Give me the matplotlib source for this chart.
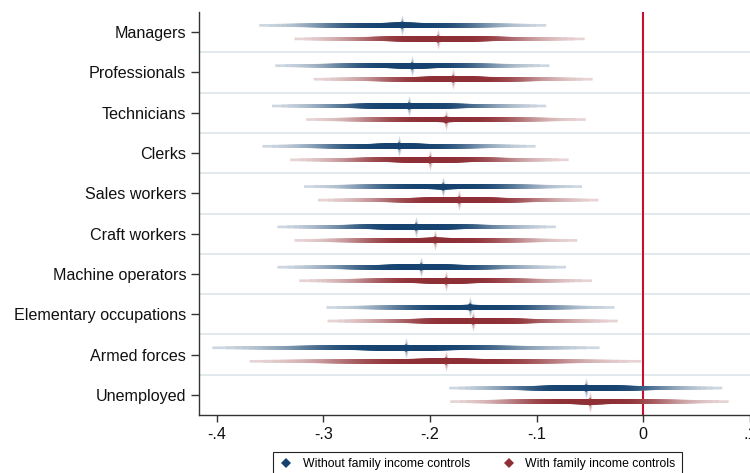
import numpy as np
import matplotlib
matplotlib.use("Agg")
import matplotlib.pyplot as plt
from matplotlib.collections import LineCollection
from matplotlib.lines import Line2D
from matplotlib.path import Path
from matplotlib.colors import to_rgb
from statistics import NormalDist

# ---------------- data ----------------
categories = ["Managers", "Professionals", "Technicians", "Clerks", "Sales workers",
              "Craft workers", "Machine operators", "Elementary occupations",
              "Armed forces", "Unemployed"]

coef_without = [-0.226, -0.217, -0.220, -0.229, -0.1875, -0.213, -0.208, -0.162, -0.2225, -0.054]
lo_without   = [-0.360, -0.345, -0.348, -0.357, -0.318, -0.343, -0.343, -0.297, -0.404, -0.182]
hi_without   = [-0.091, -0.088, -0.091, -0.101, -0.0575, -0.082, -0.0725, -0.027, -0.041, 0.074]

coef_with = [-0.192, -0.178, -0.185, -0.200, -0.173, -0.195, -0.185, -0.160, -0.185, -0.050]
lo_with   = [-0.327, -0.309, -0.316, -0.331, -0.305, -0.327, -0.3225, -0.296, -0.369, -0.181]
hi_with   = [-0.055, -0.0475, -0.054, -0.070, -0.042, -0.062, -0.048, -0.024, -0.002, 0.080]

xticks = [-0.4, -0.3, -0.2, -0.1, 0.0, 0.1]
xticklabels = ["-.4", "-.3", "-.2", "-.1", "0", ".1"]
series_labels = ["Without family income controls", "With family income controls"]

# ---------------- style ----------------
plt.rcParams['font.family'] = ['Liberation Sans', 'DejaVu Sans']
BLUE = "#15426f"
RED = "#8e2f35"
GRID = "#e1e9ed"
ZERO = "#c8102e"

fig = plt.figure(figsize=(7.5, 4.73), dpi=100)
W, H = 750, 473
ax = fig.add_axes([199 / W, 58 / H, (750 - 199) / W, (415 - 12) / H])

ypos = np.arange(1, len(categories) + 1)
offset = 0.168

# smooth confidence intervals: nested CIs, outer ones thin and pale, inner ones thick and dark
nd = NormalDist()
n_ci = 150
levels = np.linspace(0.99, 0.005, n_ci)          # outer first, inner last (drawn on top)
zvals = np.array([nd.inv_cdf(0.5 + p / 2) for p in levels])
zmax = zvals[0]
frac = zvals / zmax
lws = 1.95 + 1.75 * (1 - frac)
intens = 0.17 + 0.83 * (1 - levels ** 5)

# four-pointed star used as the glow around each point estimate
star = Path([(0, 1), (0.22, 0.22), (0.75, 0), (0.22, -0.22), (0, -1), (-0.22, -0.22),
             (-0.75, 0), (-0.22, 0.22), (0, 1)], closed=True)


def shade(color, t):
    c = np.array(to_rgb(color))
    return tuple(1 - t * (1 - c))


def smooth_ci(coef, lo, hi, ys, color):
    segs, widths, cols = [], [], []
    for zi, w, t in zip(zvals, lws, intens):
        for c, l, h, y in zip(coef, lo, hi, ys):
            sl = (c - l) / zmax
            sh = (h - c) / zmax
            segs.append([(c - zi * sl, y), (c + zi * sh, y)])
            widths.append(w)
            cols.append(shade(color, t))
    lc = LineCollection(segs, linewidths=widths, colors=cols,
                        capstyle='butt', zorder=3, snap=False)
    ax.add_collection(lc)
    ax.plot(coef, ys, ls='none', marker=star, ms=15, color=color, alpha=0.2,
            mew=0, zorder=4)
    ax.plot(coef, ys, ls='none', marker=star, ms=10, color=color, alpha=0.25,
            mew=0, zorder=4)


# grid lines between categories
for g in np.arange(1.5, len(categories), 1.0):
    ax.axhline(g, color=GRID, lw=1.4, zorder=1)

ax.axvline(0, color=ZERO, lw=1.5, zorder=2)

y_without = ypos - offset
y_with = ypos + offset
smooth_ci(coef_without, lo_without, hi_without, y_without, BLUE)
smooth_ci(coef_with, lo_with, hi_with, y_with, RED)

ax.plot(coef_without, y_without, 'D', color=BLUE, ms=4.5, mew=0, zorder=5)
ax.plot(coef_with, y_with, 'D', color=RED, ms=4.5, mew=0, zorder=5)

ax.set_xlim(-0.4165, 0.1)
ax.set_ylim(len(categories) + 0.5, 0.5)

ax.set_yticks(ypos)
ax.set_yticklabels(categories, fontsize=11.6, color="#111111")
ax.set_xticks(xticks)
ax.set_xticklabels(xticklabels, fontsize=11.6, color="#111111")
ax.tick_params(axis='y', length=6, width=1.0, pad=3.2, color="#333333")
ax.tick_params(axis='x', length=5.3, width=1.0, pad=3.5, color="#333333")

for s in ['top', 'right']:
    ax.spines[s].set_visible(False)
for s in ['left', 'bottom']:
    ax.spines[s].set_color("#333333")
    ax.spines[s].set_linewidth(1.0)

handles = [Line2D([], [], marker='D', color=BLUE, ls='none', ms=5.0, mew=0),
           Line2D([], [], marker='D', color=RED, ls='none', ms=5.0, mew=0)]
leg = fig.legend(handles, series_labels, loc='upper left',
                 bbox_to_anchor=(273.3 / W, (473 - 451.7) / H),
                 ncol=2, fontsize=8.85, frameon=True, fancybox=False,
                 edgecolor="#222222", framealpha=1, handlelength=1.0,
                 handletextpad=0.86, columnspacing=2.65, borderpad=0.53,
                 borderaxespad=0)
leg.get_frame().set_linewidth(0.8)

fig.savefig("out.png", dpi=100)
